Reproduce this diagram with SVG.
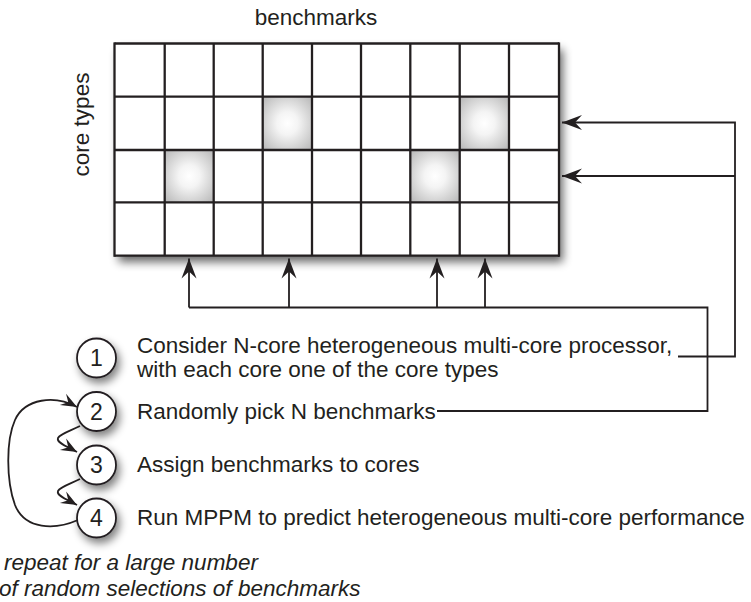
<svg xmlns="http://www.w3.org/2000/svg" width="751" height="602" viewBox="0 0 751 602">
<style>
  text { font-family: "Liberation Sans", Arial, Helvetica, sans-serif; font-size: 22.5px; fill: #231f20; }
  .it { font-style: italic; }
  .grid line { stroke: #231f20; stroke-width: 2.3; }
  .conn { fill: none; stroke: #231f20; stroke-width: 1.8; }
  .circ { fill: #ffffff; stroke: #231f20; stroke-width: 1.8; }
  .num { text-anchor: middle; font-size: 23px; }
</style>
<defs>
  <radialGradient id="glow" cx="0.5" cy="0.5" r="0.72">
    <stop offset="0" stop-color="#ffffff"/>
    <stop offset="0.3" stop-color="#f4f4f4"/>
    <stop offset="1" stop-color="#b4b4b4"/>
  </radialGradient>
  <filter id="shadow" x="-10%" y="-10%" width="125%" height="130%">
    <feGaussianBlur in="SourceAlpha" stdDeviation="5"/>
    <feOffset dx="4" dy="6" result="b"/>
    <feComponentTransfer><feFuncA type="linear" slope="0.6"/></feComponentTransfer>
    <feMerge><feMergeNode/><feMergeNode in="SourceGraphic"/></feMerge>
  </filter>
  <filter id="cshadow" x="-50%" y="-50%" width="220%" height="220%">
    <feGaussianBlur in="SourceAlpha" stdDeviation="4"/>
    <feOffset dx="3" dy="5" result="b"/>
    <feComponentTransfer><feFuncA type="linear" slope="0.5"/></feComponentTransfer>
    <feMerge><feMergeNode/><feMergeNode in="SourceGraphic"/></feMerge>
  </filter>
  <marker id="arr" viewBox="-21 -9 23 18" markerWidth="23" markerHeight="18" refX="0" refY="0" orient="auto" markerUnits="userSpaceOnUse">
    <path d="M0,0 L-20,-7.5 L-13,0 L-20,7.5 Z" fill="#231f20"/>
  </marker>
  <marker id="sarr" viewBox="-17 -8 19 16" markerWidth="19" markerHeight="16" refX="0" refY="0" orient="auto" markerUnits="userSpaceOnUse">
    <path d="M0,0 L-16,-6.5 L-10,0 L-16,6.5 Z" fill="#231f20"/>
  </marker>
</defs>
<rect width="751" height="602" fill="#ffffff"/>

<text x="316" y="25" text-anchor="middle">benchmarks</text>
<text transform="translate(89,124.5) rotate(-90)" text-anchor="middle">core types</text>

<g id="matrix">
  <rect x="114.5" y="43.5" width="444.5" height="212.5" fill="#ffffff" filter="url(#shadow)"/>
  <rect x="262.7" y="96.7" width="49.3" height="53.3" fill="url(#glow)"/>
  <rect x="459.7" y="96.7" width="49.3" height="53.3" fill="url(#glow)"/>
  <rect x="164.7" y="150" width="49" height="52.3" fill="url(#glow)"/>
  <rect x="410.3" y="150" width="49.4" height="52.3" fill="url(#glow)"/>
  <g class="grid">
    <line x1="114.5" y1="43.5" x2="559" y2="43.5"/>
    <line x1="114.5" y1="96.7" x2="559" y2="96.7"/>
    <line x1="114.5" y1="150" x2="559" y2="150"/>
    <line x1="114.5" y1="202.3" x2="559" y2="202.3"/>
    <line x1="114.5" y1="255.7" x2="559" y2="255.7"/>
    <line x1="114.5" y1="42.4" x2="114.5" y2="256.8"/>
    <line x1="164.7" y1="43.5" x2="164.7" y2="255.7"/>
    <line x1="213.7" y1="43.5" x2="213.7" y2="255.7"/>
    <line x1="262.7" y1="43.5" x2="262.7" y2="255.7"/>
    <line x1="312" y1="43.5" x2="312" y2="255.7"/>
    <line x1="361" y1="43.5" x2="361" y2="255.7"/>
    <line x1="410.3" y1="43.5" x2="410.3" y2="255.7"/>
    <line x1="459.7" y1="43.5" x2="459.7" y2="255.7"/>
    <line x1="509" y1="43.5" x2="509" y2="255.7"/>
    <line x1="559" y1="42.4" x2="559" y2="256.8"/>
  </g>
</g>

<g id="connectors">
  <path class="conn" d="M189,307.5 L707.5,307.5 L707.5,411 L437,411"/>
  <path class="conn" d="M189,307.5 L189,258.5" marker-end="url(#arr)"/>
  <path class="conn" d="M289,307.5 L289,258.5" marker-end="url(#arr)"/>
  <path class="conn" d="M437,307.5 L437,258.5" marker-end="url(#arr)"/>
  <path class="conn" d="M485,307.5 L485,258.5" marker-end="url(#arr)"/>
  <path class="conn" d="M678,356.5 L735,356.5 L735,122.5 L562,122.5" marker-end="url(#arr)"/>
  <path class="conn" d="M735,176 L562,176" marker-end="url(#arr)"/>
  <path class="conn" d="M78,520 C55,530 25,530 15,505 C6,480 6,440 15,420 C25,398 55,395 77,407" marker-end="url(#sarr)"/>
  <path class="conn" d="M80,426 C70,431 60,434 58,438 C56,443 68,447 77,452" marker-end="url(#sarr)"/>
  <path class="conn" d="M80,479 C70,484 60,487 58,491 C56,496 68,500 77,505" marker-end="url(#sarr)"/>
</g>

<g id="step1">
  <circle class="circ" cx="96.5" cy="358" r="19.5" filter="url(#cshadow)"/>
  <text class="num" x="96.5" y="366">1</text>
  <text x="137" y="353">Consider N-core heterogeneous multi-core processor,</text>
  <text x="137" y="377">with each core one of the core types</text>
</g>
<g id="step2">
  <circle class="circ" cx="96.5" cy="411.5" r="19.5" filter="url(#cshadow)"/>
  <text class="num" x="96.5" y="419.5">2</text>
  <text x="137" y="419">Randomly pick N benchmarks</text>
</g>
<g id="step3">
  <circle class="circ" cx="96.5" cy="465" r="19.5" filter="url(#cshadow)"/>
  <text class="num" x="96.5" y="473">3</text>
  <text x="137" y="472">Assign benchmarks to cores</text>
</g>
<g id="step4">
  <circle class="circ" cx="96.5" cy="518" r="19.5" filter="url(#cshadow)"/>
  <text class="num" x="96.5" y="526">4</text>
  <text x="137" y="525">Run MPPM to predict heterogeneous multi-core performance</text>
</g>

<text class="it" x="4" y="570">repeat for a large number</text>
<text class="it" x="-1" y="596">of random selections of benchmarks</text>
</svg>
